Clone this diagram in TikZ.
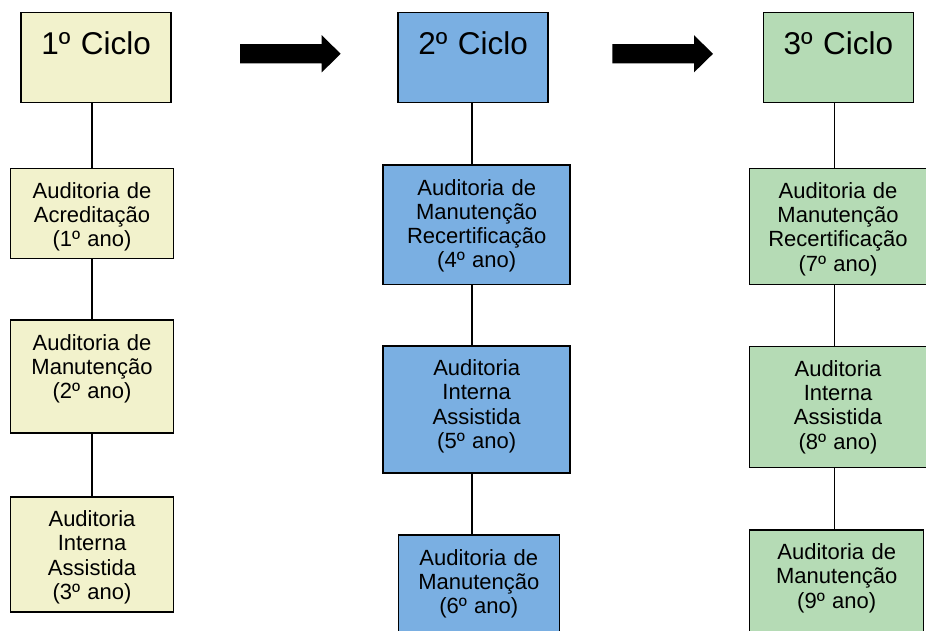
\documentclass[tikz,border=0pt]{standalone}
\usepackage{fontspec}
\setmainfont{Liberation Sans}
\usetikzlibrary{positioning}
\definecolor{amarelo}{HTML}{F2F2CC}
\definecolor{azul}{HTML}{7AAFE2}
\definecolor{verde}{HTML}{B5DBB5}
\tikzset{
  caixa/.style={draw, line width=1.5pt, inner sep=0pt, align=center, anchor=north,
    text height=30pt, font=\fontsize{22}{24.2}\selectfont},
  ciclo/.style={caixa, text width=150pt, text height=42pt, text depth=48pt,
    font=\fontsize{31.5}{36}\selectfont},
  liga/.style={line width=1.3pt}
}
\begin{document}
\begin{tikzpicture}[x=1pt,y=-1pt]
\useasboundingbox (0,0) rectangle (926,631);
\clip (0,0) rectangle (926,631);

% ciclos
\node[ciclo, fill=amarelo] (t1) at (96.2,11.7) {1º Ciclo};
\node[ciclo, fill=azul] (t2) at (473.2,11.7) {2º Ciclo};
\node[ciclo, fill=verde] (t3) at (838.3,11.7) {3º Ciclo};

\coordinate (c1) at (92,0);
\coordinate (c2) at (472,0);
\coordinate (c3) at (834.3,0);

% 1o ciclo
\node[caixa, fill=amarelo, text width=163pt, text depth=60pt] (b1) at (92,167.7) {Auditoria de\\Acreditação\\(1º ano)};
\node[caixa, fill=amarelo, text width=163pt, text depth=82.7pt] (b2) at (92,319.3) {Auditoria de\\Manutenção\\(2º ano)};
\node[caixa, fill=amarelo, text width=163pt, text depth=85pt] (b3) at (92,496) {Auditoria\\Interna\\Assistida\\(3º ano)};

% 2o ciclo
\node[caixa, fill=azul, text width=187pt, text depth=89.4pt] (b4) at (476.7,164.3) {Auditoria de\\Manutenção\\Recertificação\\(4º ano)};
\node[caixa, fill=azul, text width=187pt, text depth=97pt] (b5) at (476.7,345) {Auditoria\\Interna\\Assistida\\(5º ano)};
\node[caixa, fill=azul, text width=161pt, text depth=120pt] (b6) at (478.8,534.3) {Auditoria de\\Manutenção\\(6º ano)};

% 3o ciclo
\node[caixa, fill=verde, text width=177pt, text depth=86pt] (b7) at (838,167.7) {Auditoria de\\Manutenção\\Recertificação\\(7º ano)};
\node[caixa, fill=verde, text width=177pt, text depth=91pt] (b8) at (838,345.7) {Auditoria\\Interna\\Assistida\\(8º ano)};
\node[caixa, fill=verde, text width=174pt, text depth=120pt] (b9) at (836.7,529) {Auditoria de\\Manutenção\\(9º ano)};

% ligacoes
\draw[liga] (t1.south -| c1) -- (b1.north -| c1);
\draw[liga] (b1.south -| c1) -- (b2.north -| c1);
\draw[liga] (b2.south -| c1) -- (b3.north -| c1);
\draw[liga] (t2.south -| c2) -- (b4.north -| c2);
\draw[liga] (b4.south -| c2) -- (b5.north -| c2);
\draw[liga] (b5.south -| c2) -- (b6.north -| c2);
\draw[liga] (t3.south -| c3) -- (b7.north -| c3);
\draw[liga] (b7.south -| c3) -- (b8.north -| c3);
\draw[liga] (b8.south -| c3) -- (b9.north -| c3);

% setas
\foreach \x in {240,612.3}
  \fill (\x,44.2) -- ++(81.7,0) -- ++(0,-9) -- ++(19,18.6) -- ++(-19,18.6)
    -- ++(0,-9) -- ++(-81.7,0) -- cycle;

\end{tikzpicture}
\end{document}
